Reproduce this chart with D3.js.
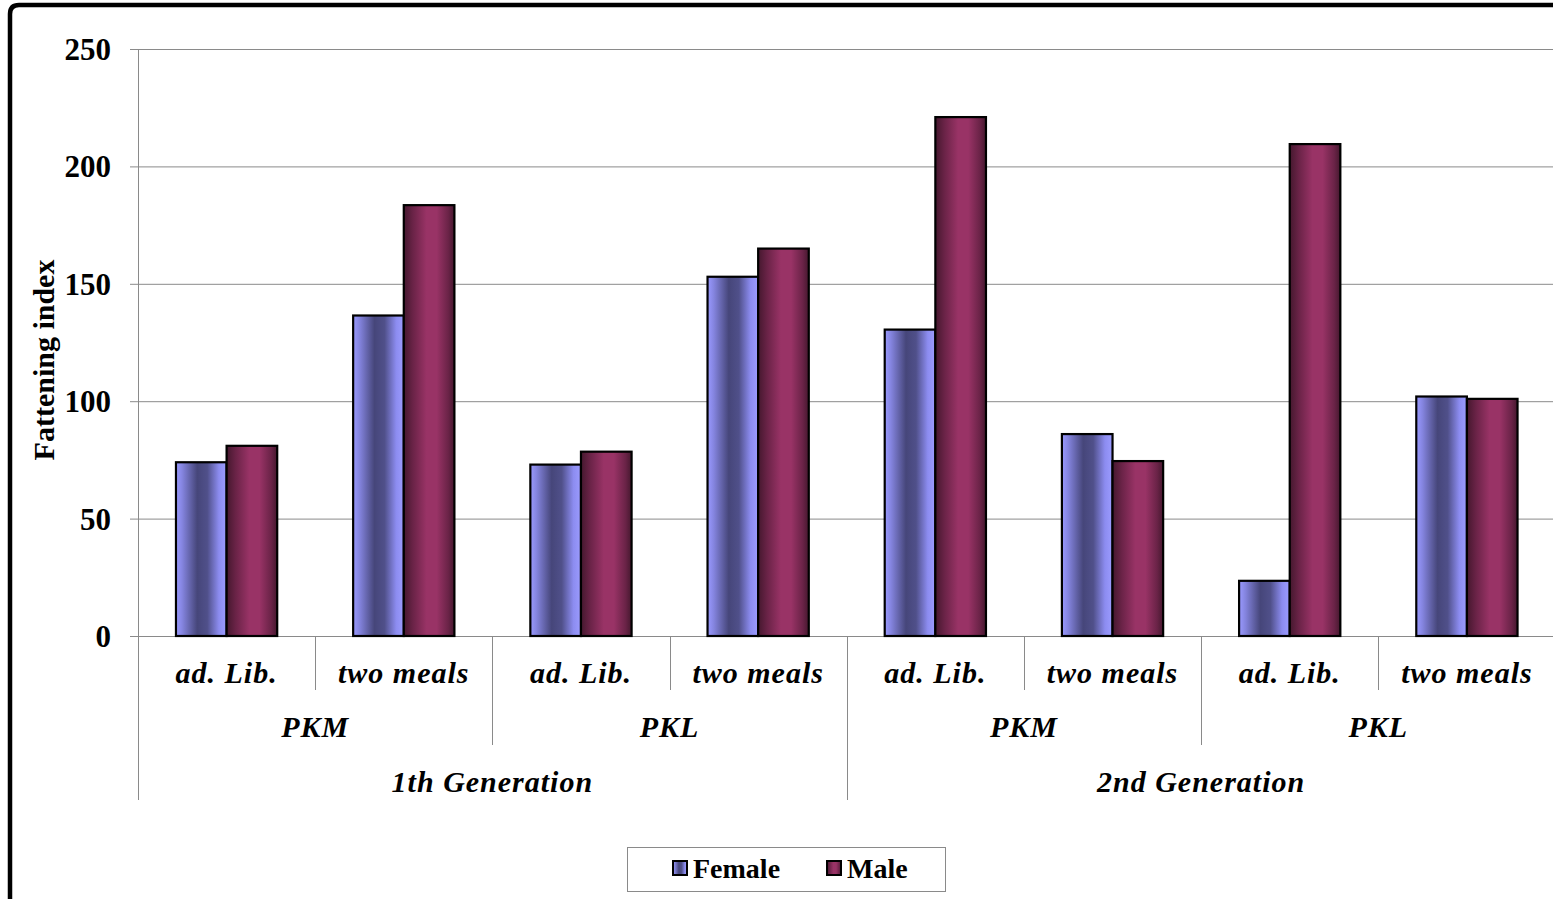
<!DOCTYPE html>
<html><head><meta charset="utf-8">
<script src="https://cdn.jsdelivr.net/npm/d3@7"></script>
<style>
html,body{margin:0;padding:0;background:#fff;overflow:hidden;}
svg{display:block;}
text{font-family:"Liberation Serif","Times New Roman",serif;}
</style></head><body>
<svg id="chart" width="1553" height="899"></svg>
<script>
const generations = ["1th Generation", "2nd Generation"];
const breeds = ["PKM", "PKL"];
const feeding = ["ad. Lib.", "two meals"];
const series = ["Female", "Male"];
const femaleValues = [74, 136.5, 73, 153, 130.5, 86, 23.5, 102];
const maleValues = [81, 183.5, 78.5, 165, 221, 74.5, 209.5, 101];
const yTicks = [0, 50, 100, 150, 200, 250];

const svg = d3.select("#chart");
const W = 1553, H = 899;
const plotLeft = 138, plotRight = 1555.5, plotTop = 49, plotBottom = 636;

// outer frame (left + top, rounded corner)
svg.append("path")
  .attr("d", `M10,${H+5} L10,14 Q10,5 19,5 L${W+5},5`)
  .attr("fill", "none").attr("stroke", "#000").attr("stroke-width", 4.5);

const cats = [];
generations.forEach((g, gi) => breeds.forEach((b, bi) => feeding.forEach((f, fi) => cats.push({g, b, f, i: cats.length}))));

const x0 = d3.scaleBand().domain(d3.range(cats.length)).range([plotLeft, plotRight]).padding(0);
const x1 = d3.scaleBand().domain(series).range([0, x0.bandwidth()]).paddingInner(0).paddingOuter(0.75);
const y = d3.scaleLinear().domain([0, 250]).range([plotBottom, plotTop]);

const defs = svg.append("defs");
const gf = defs.append("linearGradient").attr("id", "gFemale").attr("x1", "0").attr("x2", "1").attr("y1", "0").attr("y2", "0");
[[0, "#9a9aff"], [0.12, "#8585e0"], [0.42, "#46467a"], [0.62, "#50508a"], [0.85, "#8c8cf0"], [1, "#9c9cff"]]
  .forEach(([o, c]) => gf.append("stop").attr("offset", o).attr("stop-color", c));
const gm = defs.append("linearGradient").attr("id", "gMale").attr("x1", "0").attr("x2", "1").attr("y1", "0").attr("y2", "0");
[[0, "#45182e"], [0.18, "#6a2347"], [0.45, "#993366"], [0.65, "#993366"], [0.88, "#6a2347"], [1, "#45182e"]]
  .forEach(([o, c]) => gm.append("stop").attr("offset", o).attr("stop-color", c));
const fills = {Female: "url(#gFemale)", Male: "url(#gMale)"};

// gridlines
svg.append("g").selectAll("line").data(yTicks).join("line")
  .attr("x1", plotLeft - 8).attr("x2", W).attr("y1", d => y(d) + 0.5).attr("y2", d => y(d) + 0.5)
  .attr("stroke", "#8a8a8a").attr("stroke-width", 1);

// y axis
const yAxis = d3.axisLeft(y).tickValues(yTicks).tickSize(0).tickPadding(27);
const ya = svg.append("g").attr("transform", `translate(${plotLeft},0)`).call(yAxis);
ya.select(".domain").remove();
ya.selectAll("text").attr("font-size", 31).attr("font-weight", "bold").attr("fill", "#000")
  .attr("font-family", "Liberation Serif, serif").attr("dy", "0.34em");

// axis line (extends down through category area)
svg.append("line").attr("x1", plotLeft + 0.5).attr("x2", plotLeft + 0.5).attr("y1", plotTop).attr("y2", 800)
  .attr("stroke", "#8a8a8a").attr("stroke-width", 1);

// category dividers
const sep = [];
for (let i = 1; i < cats.length; i++) {
  const xx = x0(i);
  let len = 690;
  if (i % 2 === 0) len = 745;
  if (i % 4 === 0) len = 800;
  sep.push({x: xx, y2: len});
}
svg.append("g").selectAll("line").data(sep).join("line")
  .attr("x1", d => Math.round(d.x) + 0.5).attr("x2", d => Math.round(d.x) + 0.5)
  .attr("y1", plotBottom).attr("y2", d => d.y2)
  .attr("stroke", "#8a8a8a").attr("stroke-width", 1);

// bars
const data = [];
cats.forEach((c, i) => {
  data.push({i, s: "Female", v: femaleValues[i]});
  data.push({i, s: "Male", v: maleValues[i]});
});
svg.append("g").selectAll("rect").data(data).join("rect")
  .attr("x", d => x0(d.i) + x1(d.s))
  .attr("y", d => y(d.v))
  .attr("width", x1.bandwidth())
  .attr("height", d => y(0) - y(d.v))
  .attr("fill", d => fills[d.s])
  .attr("stroke", "#000").attr("stroke-width", 2.2);

// category labels
const labelStyle = sel => sel.attr("font-size", 30).attr("font-style", "italic").attr("font-weight", "bold")
  .attr("letter-spacing", 1).attr("fill", "#000").attr("text-anchor", "middle");
svg.append("g").selectAll("text").data(cats).join("text")
  .attr("x", d => x0(d.i) + x0.bandwidth() / 2).attr("y", 683)
  .text(d => d.f).call(labelStyle);
const breedData = d3.range(4).map(k => ({k, name: breeds[k % 2]}));
svg.append("g").selectAll("text").data(breedData).join("text")
  .attr("x", d => x0(d.k * 2) + x0.bandwidth())
  .attr("y", 737).text(d => d.name).call(labelStyle);
svg.append("g").selectAll("text").data(generations).join("text")
  .attr("x", (d, k) => x0(k * 4) + x0.bandwidth() * 2)
  .attr("y", 792).text(d => d).call(labelStyle);

// y title
svg.append("text").attr("transform", "translate(54,360) rotate(-90)")
  .attr("text-anchor", "middle").attr("font-size", 30).attr("font-weight", "bold").attr("fill", "#000")
  .text("Fattening index");

// legend
const lg = svg.append("g");
lg.append("rect").attr("x", 627.5).attr("y", 847.5).attr("width", 318).attr("height", 44)
  .attr("fill", "#fff").attr("stroke", "#8a8a8a").attr("stroke-width", 1);
const legendItems = [{s: "Female", x: 673}, {s: "Male", x: 827}];
lg.selectAll("rect.m").data(legendItems).join("rect").attr("class", "m")
  .attr("x", d => d.x).attr("y", 861).attr("width", 14).attr("height", 14)
  .attr("fill", d => fills[d.s]).attr("stroke", "#000").attr("stroke-width", 2);
lg.selectAll("text").data(legendItems).join("text")
  .attr("x", d => d.x + 20).attr("y", 878).attr("font-size", 28).attr("font-weight", "bold")
  .attr("fill", "#000").text(d => d.s);
</script>
</body></html>
